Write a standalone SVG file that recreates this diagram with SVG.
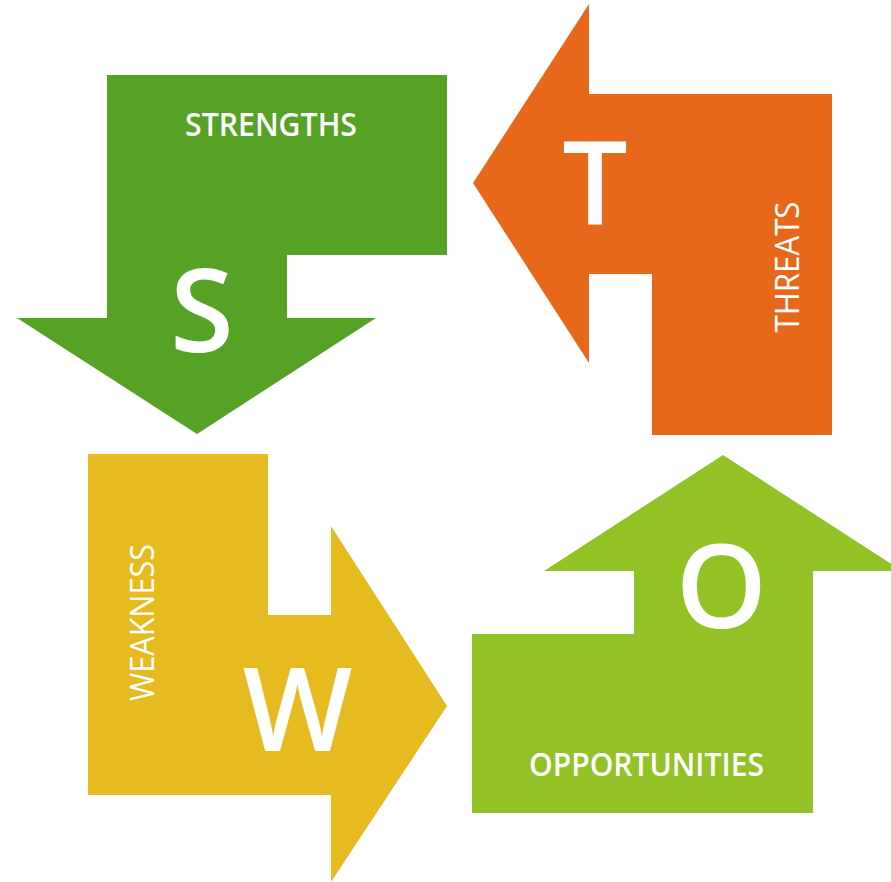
<svg xmlns="http://www.w3.org/2000/svg" width="891" height="882" viewBox="0 0 891 882">
<style>
.lbl{font-family:"Open Sans","Liberation Sans",sans-serif;fill:#fff;font-size:32px;text-anchor:middle}
.big{font-family:"Open Sans","Liberation Sans",sans-serif;fill:#fff;font-size:116px;font-weight:600;text-anchor:middle}
</style>
<rect width="891" height="882" fill="#fff"/>
<g id="strengths">
<polygon points="107,75 447,75 447,255 287,255 287,318 376,318 197,434 17,318 107,318" fill="#56A225"/>
<text class="lbl" x="271" y="136" font-weight="600" textLength="172" lengthAdjust="spacingAndGlyphs">STRENGTHS</text>
<text class="big" x="202" y="352">S</text>
</g>
<g id="threats">
<polygon points="589,4 589,94 832,94 832,435 652,435 652,274 589,274 589,363 473,183" fill="#E7681B"/>
<text class="big" x="595" y="224">T</text>
<text class="lbl" transform="translate(799,267) rotate(-90)" x="0" y="0" font-weight="500" textLength="131" lengthAdjust="spacingAndGlyphs">THREATS</text>
</g>
<g id="weakness">
<polygon points="88,454 268,454 268,615 331,615 331,526 447,706 331,882 331,795 88,795" fill="#E5BB20"/>
<text class="lbl" transform="translate(154,622.5) rotate(-90)" x="0" y="0" font-weight="500" textLength="157" lengthAdjust="spacingAndGlyphs">WEAKNESS</text>
<text class="big" x="297.5" y="751">W</text>
</g>
<g id="opportunities">
<polygon points="472,634 634,634 634,571 544,571 723,455 902,571 813,571 813,813 472,813" fill="#93C227"/>
<text class="big" x="721.5" y="628">O</text>
<text class="lbl" x="646.5" y="776" font-weight="600" textLength="235" lengthAdjust="spacingAndGlyphs">OPPORTUNITIES</text>
</g>
<g id="connectors"></g>
</svg>
